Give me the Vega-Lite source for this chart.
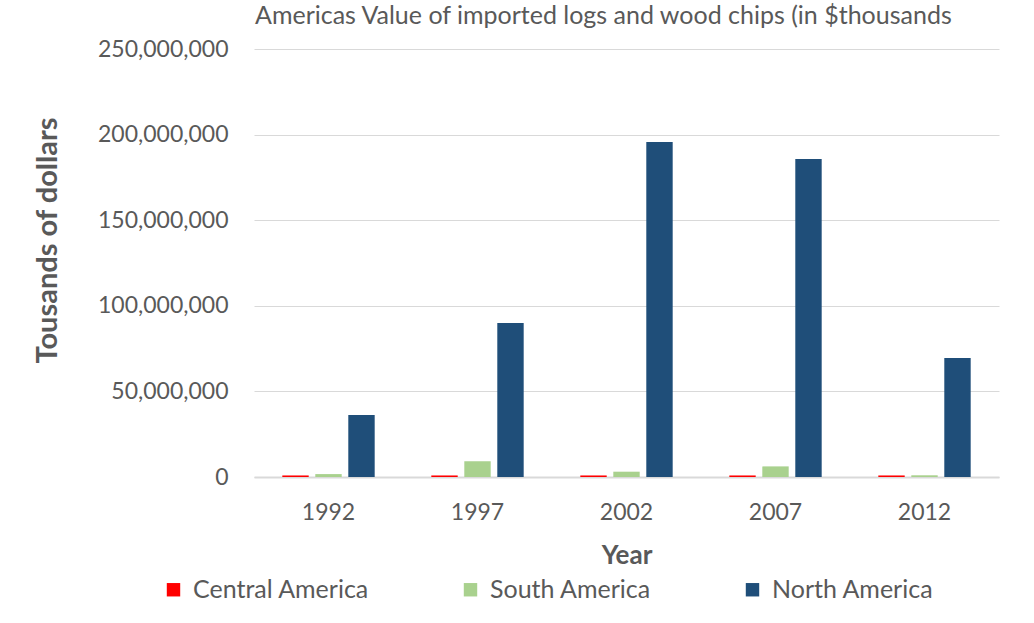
{
  "$schema": "https://vega.github.io/schema/vega-lite/v6.json",
  "autosize": {"type": "none"},
  "width": 745,
  "height": 428,
  "padding": {"left": 254, "top": 49, "right": 35, "bottom": 146},
  "background": "white",
  "title": {
    "text": "Americas Value of imported logs and wood chips (in $thousands",
    "anchor": "start",
    "frame": "group",
    "font": "Lato",
    "fontSize": 25,
    "fontWeight": "normal",
    "color": "#595959",
    "offset": 9,
    "dx": 1
  },
  "data": {
    "values": [
      {"year": "1992", "region": "Central America", "value": 900000},
      {"year": "1992", "region": "South America", "value": 1700000},
      {"year": "1992", "region": "North America", "value": 36200000},
      {"year": "1997", "region": "Central America", "value": 900000},
      {"year": "1997", "region": "South America", "value": 9200000},
      {"year": "1997", "region": "North America", "value": 90000000},
      {"year": "2002", "region": "Central America", "value": 900000},
      {"year": "2002", "region": "South America", "value": 3100000},
      {"year": "2002", "region": "North America", "value": 195700000},
      {"year": "2007", "region": "Central America", "value": 900000},
      {"year": "2007", "region": "South America", "value": 6200000},
      {"year": "2007", "region": "North America", "value": 185700000},
      {"year": "2012", "region": "Central America", "value": 900000},
      {"year": "2012", "region": "South America", "value": 1000000},
      {"year": "2012", "region": "North America", "value": 69500000}
    ]
  },
  "mark": {"type": "bar"},
  "encoding": {
    "x": {
      "field": "year",
      "type": "nominal",
      "scale": {"paddingInner": 0.38, "paddingOuter": 0.19},
      "axis": {
        "title": "Year",
        "labelAngle": 0,
        "ticks": false,
        "labelPadding": 24,
        "labelFontSize": 23,
        "labelFont": "Lato",
        "labelColor": "#595959",
        "titleFont": "Lato",
        "titleFontSize": 26,
        "titleFontWeight": "bold",
        "titleColor": "#595959",
        "titlePadding": 18,
        "domainColor": "#D9D9D9",
        "domainWidth": 2
      }
    },
    "xOffset": {
      "field": "region",
      "type": "nominal",
      "sort": ["Central America", "South America", "North America"],
      "scale": {"paddingInner": 0.2}
    },
    "y": {
      "field": "value",
      "type": "quantitative",
      "scale": {"domain": [0, 250000000], "nice": false},
      "axis": {
        "title": "Tousands of dollars",
        "format": ",.0f",
        "values": [0, 50000000, 100000000, 150000000, 200000000, 250000000],
        "labelOverlap": false,
        "ticks": false,
        "domain": false,
        "labelPadding": 26,
        "labelFontSize": 23,
        "labelFont": "Lato",
        "labelColor": "#595959",
        "gridColor": "#D9D9D9",
        "titleFont": "Lato",
        "titleFontSize": 29,
        "titleFontWeight": "bold",
        "titleColor": "#595959",
        "titleX": -207,
        "titleY": 191,
        "titleAngle": -90,
        "titleAlign": "center",
        "titleBaseline": "middle"
      }
    },
    "color": {
      "field": "region",
      "type": "nominal",
      "sort": ["Central America", "South America", "North America"],
      "scale": {
        "domain": ["Central America", "South America", "North America"],
        "range": ["#FF0000", "#A9D18E", "#1F4E79"]
      },
      "legend": {
        "title": null,
        "orient": "none",
        "legendX": -93,
        "legendY": 528,
        "direction": "horizontal",
        "symbolType": "square",
        "symbolSize": 180,
        "symbolStrokeWidth": 0,
        "labelFont": "Lato",
        "labelFontSize": 25,
        "labelColor": "#595959",
        "labelOffset": 7,
        "labelLimit": 400,
        "columnPadding": 88
      }
    }
  },
  "config": {
    "view": {"stroke": null}
  }
}
